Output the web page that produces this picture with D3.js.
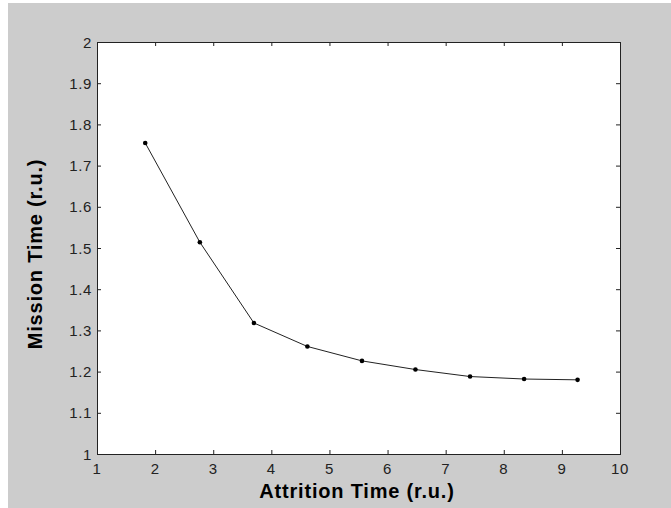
<!DOCTYPE html>
<html>
<head>
<meta charset="utf-8">
<script src="https://cdn.jsdelivr.net/npm/d3@7"></script>
<style>
  body { margin: 0; background: #fff; }
  svg { display: block; }
  .tick-label { font-family: "Liberation Sans", Arial, sans-serif; font-size: 15px; fill: #222; letter-spacing: 0.6px; }
  .axis-title { font-family: "Liberation Sans", Arial, sans-serif; font-size: 20px; font-weight: bold; fill: #000; letter-spacing: 0.8px; }
</style>
</head>
<body>
<svg width="671" height="508"></svg>
<script>
// attrition time (r.u.) vs mission time (r.u.)
const attrition = [1.83, 2.77, 3.70, 4.62, 5.56, 6.48, 7.42, 8.35, 9.27]
const mission = [1.755, 1.514, 1.318, 1.261, 1.226, 1.205, 1.188, 1.182, 1.180]
const xTicks = [1, 2, 3, 4, 5, 6, 7, 8, 9, 10]
const yTicks = [1, 1.1, 1.2, 1.3, 1.4, 1.5, 1.6, 1.7, 1.8, 1.9, 2]

const svg = d3.select("svg")

// gray figure background with a thin white margin top/left
svg.append("rect")
    .attr("x", 8).attr("y", 3)
    .attr("width", 671 - 8).attr("height", 508 - 3)
    .attr("fill", "#cccccc")

const plotL = 97, plotR = 620, plotT = 42, plotB = 454

var x = d3.scaleLinear().domain([1, 10]).range([plotL, plotR])
var y = d3.scaleLinear().domain([1, 2]).range([plotB, plotT])

svg.append("rect")
    .attr("x", plotL).attr("y", plotT)
    .attr("width", plotR - plotL).attr("height", plotB - plotT)
    .attr("fill", "#fff")

const tickLen = 4
const g = svg.append("g").attr("stroke", "#222").attr("stroke-width", 1)

// ticks on all four sides, pointing inwards
xTicks.forEach(t => {
    g.append("line").attr("x1", x(t) + 0.5).attr("x2", x(t) + 0.5)
        .attr("y1", plotB).attr("y2", plotB - tickLen)
    g.append("line").attr("x1", x(t) + 0.5).attr("x2", x(t) + 0.5)
        .attr("y1", plotT).attr("y2", plotT + tickLen)
})
yTicks.forEach(t => {
    g.append("line").attr("y1", y(t) + 0.5).attr("y2", y(t) + 0.5)
        .attr("x1", plotL).attr("x2", plotL + tickLen)
    g.append("line").attr("y1", y(t) + 0.5).attr("y2", y(t) + 0.5)
        .attr("x1", plotR).attr("x2", plotR - tickLen)
})

svg.append("rect")
    .attr("x", plotL + 0.5).attr("y", plotT + 0.5)
    .attr("width", plotR - plotL).attr("height", plotB - plotT)
    .attr("fill", "none")
    .attr("stroke", "#222")

svg.selectAll("text.xt")
    .data(xTicks)
    .join("text")
    .attr("class", "tick-label xt")
    .attr("x", d => x(d))
    .attr("y", plotB + 20)
    .attr("text-anchor", "middle")
    .text(d => d)

svg.selectAll("text.yt")
    .data(yTicks)
    .join("text")
    .attr("class", "tick-label yt")
    .attr("x", plotL - 5)
    .attr("y", d => y(d) + 5.5)
    .attr("text-anchor", "end")
    .text(d => d3.format("~g")(d))

svg.append("text")
    .attr("class", "axis-title")
    .attr("x", 357)
    .attr("y", 498)
    .attr("text-anchor", "middle")
    .text("Attrition Time (r.u.)")

svg.append("text")
    .attr("class", "axis-title")
    .attr("transform", `translate(42,254) rotate(-90)`)
    .attr("text-anchor", "middle")
    .text("Mission Time (r.u.)")

const pts = attrition.map((a, i) => [a, mission[i]])

svg.append("path")
    .datum(pts)
    .attr("fill", "none")
    .attr("stroke", "#222")
    .attr("stroke-width", 1)
    .attr("d", d3.line().x(d => x(d[0])).y(d => y(d[1])))

svg.selectAll("circle")
    .data(pts)
    .join("circle")
    .attr("cx", d => x(d[0]))
    .attr("cy", d => y(d[1]))
    .attr("r", 2.3)
    .attr("fill", "#000")
</script>
</body>
</html>
